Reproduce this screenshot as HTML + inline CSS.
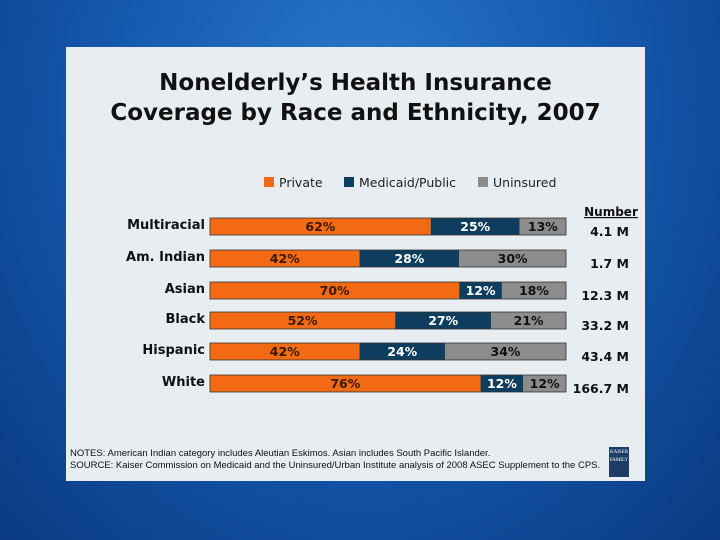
<!DOCTYPE html>
<html><head><meta charset="utf-8"><style>
body{margin:0;width:720px;height:540px;overflow:hidden;font-family:"DejaVu Sans","Liberation Sans",sans-serif;}
#bg{position:absolute;left:0;top:0;width:720px;height:540px;background:radial-gradient(ellipse at 50% 20%,#2a78cc 0%,#1458ad 50%,#0a3a80 100%);}
#panel{position:absolute;left:66px;top:47px;width:579px;height:434px;background:#e8edf1;}
.t{position:absolute;white-space:nowrap;}
</style></head><body>
<div id="bg"></div>
<div id="panel"></div>
<div class="t" style="left:66px;width:579px;top:68px;text-align:center;font-weight:bold;font-size:23px;line-height:30px;color:#111;">Nonelderly’s Health Insurance<br>Coverage by Race and Ethnicity, 2007</div>
<svg id="chart" width="720" height="540" style="position:absolute;left:0;top:0"></svg>
<div class="t" style="left:70px;top:448px;font-size:9.5px;line-height:12px;color:#111;font-family:'Liberation Sans',sans-serif;">NOTES: American Indian category includes Aleutian Eskimos.  Asian includes South Pacific Islander.<br>SOURCE: Kaiser Commission on Medicaid and the Uninsured/Urban Institute analysis of 2008 ASEC Supplement to the CPS.</div>
<div class="t" style="left:609px;top:447px;width:20px;height:30px;background:#1d3d66;color:#fff;font-size:5px;line-height:8px;text-align:center;font-family:'Liberation Serif',serif;padding-top:2px;box-sizing:border-box;">KAISER<br>FAMILY</div>
<script>
const categories=["Multiracial","Am. Indian","Asian","Black","Hispanic","White"];
const privateVals=[62,42,70,52,42,76];
const publicVals=[25,28,12,27,24,12];
const uninsuredVals=[13,30,18,21,34,12];
const numbers=["4.1 M","1.7 M","12.3 M","33.2 M","43.4 M","166.7 M"];
const seriesNames=["Private","Medicaid/Public","Uninsured"];
const colors=["#f26a14","#0f3d5e","#8c8c8c"];
const textColors=["#3a1a00","#ffffff","#111111"];
const svg=document.getElementById('chart');
const NS='http://www.w3.org/2000/svg';
const x0=210,x1=566;
const rowY=[218,250,282,312,343,375];
const bh=17;
function xs(v){return x0+(x1-x0)*v/100;}
function mk(tag,attrs){const e=document.createElementNS(NS,tag);for(const k in attrs)e.setAttribute(k,attrs[k]);svg.appendChild(e);return e;}
const series=[privateVals,publicVals,uninsuredVals];
categories.forEach((c,i)=>{
  const y=rowY[i];
  let acc=0;
  series.forEach((s,j)=>{
    const v=s[i];
    const r=mk('rect',{x:xs(acc),y:y,width:xs(acc+v)-xs(acc),height:bh,fill:colors[j]});
    
    
    acc+=v;
  });
  const o=mk('rect',{x:x0,y:y,width:x1-x0,height:bh,fill:'none',stroke:'#333','stroke-width':'0.8'});
  
  
  acc=0;
  series.forEach((s,j)=>{
    const v=s[i];
    const t=mk('text',{x:(xs(acc)+xs(acc+v))/2,y:y+13,'text-anchor':'middle','font-size':'12.5','font-weight':'bold',fill:textColors[j],'font-family':'DejaVu Sans,sans-serif'});
    t.textContent=v+'%';
    
    
    acc+=v;
  });
  const l=mk('text',{x:205,y:y+11,'text-anchor':'end','font-size':'13','font-weight':'bold',fill:'#111','font-family':'DejaVu Sans,sans-serif'});
  l.textContent=c;
  
  
  const n=mk('text',{x:629,y:y+18,'text-anchor':'end','font-size':'12.5','font-weight':'bold',fill:'#111','font-family':'DejaVu Sans,sans-serif'});
  n.textContent=numbers[i];
  
  
});
const nh=mk('text',{x:611,y:216,'text-anchor':'middle','font-size':'12','font-weight':'bold',fill:'#111','text-decoration':'underline','font-family':'DejaVu Sans,sans-serif'});
nh.textContent='Number';


const lx=[264,344,478];
seriesNames.forEach((s,j)=>{
  const r=mk('rect',{x:lx[j],y:177,width:10,height:10,fill:colors[j]});
  
  
  const t=mk('text',{x:lx[j]+15,y:187,'font-size':'12.5',fill:'#222','font-family':'DejaVu Sans,sans-serif'});
  t.textContent=s;
  
  
});
</script>
</body></html>
